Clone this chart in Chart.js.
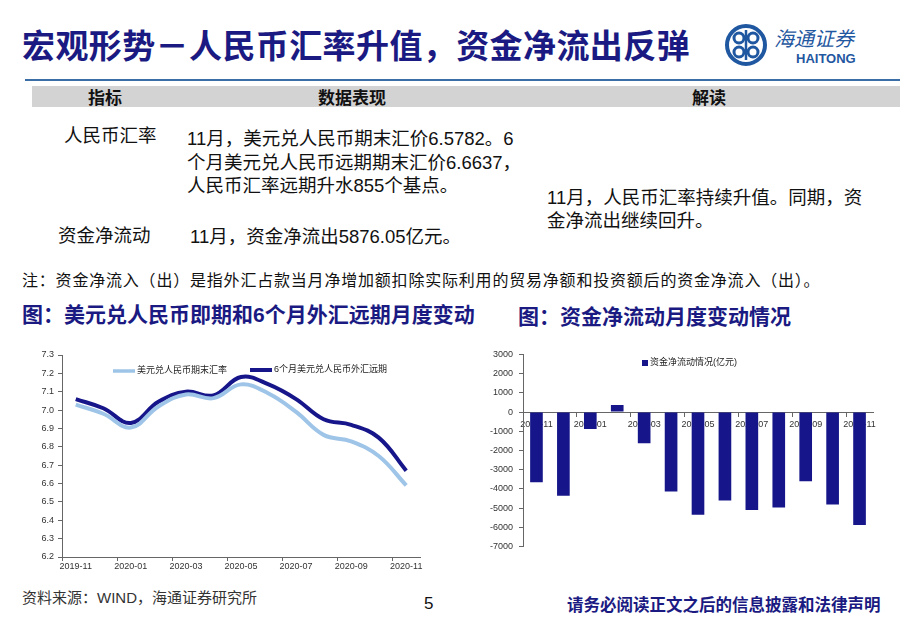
<!DOCTYPE html>
<html>
<head>
<meta charset="utf-8">
<script src="https://cdn.jsdelivr.net/npm/chart.js@4/dist/chart.umd.min.js"></script>
<style>
body { margin:0; width:920px; height:636px; background:#fff; position:relative; overflow:hidden;
  font-family:"Liberation Sans","Noto Sans CJK SC",sans-serif; color:#111; }
.t { position:absolute; white-space:nowrap; line-height:1; }
.navy { color:#1a1a82; }
</style>
</head>
<body>

<div class="t navy" style="left:22px;top:28px;font-size:33px;font-weight:bold;letter-spacing:0.4px;font-family:'Noto Sans CJK SC',sans-serif;">宏观形势－人民币汇率升值，资金净流出反弹</div>

<svg style="position:absolute;left:722px;top:22px" width="50" height="48">
  <circle cx="24" cy="23" r="19" fill="none" stroke="#1f57a0" stroke-width="4"/>
  <circle cx="17" cy="16" r="5" fill="none" stroke="#1f57a0" stroke-width="3"/>
  <circle cx="31" cy="16" r="5" fill="none" stroke="#1f57a0" stroke-width="3"/>
  <circle cx="17" cy="30" r="5" fill="none" stroke="#1f57a0" stroke-width="3"/>
  <circle cx="31" cy="30" r="5" fill="none" stroke="#1f57a0" stroke-width="3"/>
  <line x1="24" y1="8" x2="24" y2="38" stroke="#1f57a0" stroke-width="2.5"/>
</svg>
<div class="t" style="left:774px;top:28px;font-size:20px;font-style:italic;color:#1f57a0;font-family:'Noto Sans CJK SC',sans-serif;">海通证券</div>
<div class="t" style="left:796px;top:52px;font-size:13px;font-weight:bold;color:#1f57a0;">HAITONG</div>

<div style="position:absolute;left:25px;top:79px;width:875px;height:2px;background:#3a6ea5"></div>
<div style="position:absolute;left:32px;top:86px;width:868px;height:21px;background:#d3d3d3"></div>
<div class="t" style="left:88px;top:88px;font-size:17px;font-weight:bold;font-family:'Noto Sans CJK SC',sans-serif;">指标</div>
<div class="t" style="left:318px;top:88px;font-size:17px;font-weight:bold;font-family:'Noto Sans CJK SC',sans-serif;">数据表现</div>
<div class="t" style="left:692px;top:88px;font-size:17px;font-weight:bold;font-family:'Noto Sans CJK SC',sans-serif;">解读</div>

<div class="t" style="left:64px;top:127px;font-size:18.5px;">人民币汇率</div>
<div class="t" style="left:187px;top:127px;font-size:18.5px;line-height:23.5px;">11月，美元兑人民币期末汇价6.5782。6<br>个月美元兑人民币远期期末汇价6.6637，<br>人民币汇率远期升水855个基点。</div>
<div class="t" style="left:547px;top:186px;font-size:18.5px;line-height:23px;">11月，人民币汇率持续升值。同期，资<br>金净流出继续回升。</div>
<div class="t" style="left:58px;top:227px;font-size:18.5px;">资金净流动</div>
<div class="t" style="left:190px;top:228px;font-size:18.5px;">11月，资金净流出5876.05亿元。</div>

<div class="t" style="left:22px;top:273px;font-size:16px;letter-spacing:0.8px;">注：资金净流入（出）是指外汇占款当月净增加额扣除实际利用的贸易净额和投资额后的资金净流入（出）。</div>
<div class="t navy" style="left:22px;top:304px;font-size:21px;font-weight:bold;">图：美元兑人民币即期和6个月外汇远期月度变动</div>
<div class="t navy" style="left:518px;top:306px;font-size:21px;font-weight:bold;">图：资金净流动月度变动情况</div>

<div style="position:absolute;left:20px;top:345px;width:410px;height:230px;"><canvas id="fx"></canvas></div>
<div style="position:absolute;left:470px;top:343px;width:420px;height:215px;"><canvas id="flow"></canvas></div>

<div class="t" style="left:22px;top:590px;font-size:15px;color:#333;">资料来源：WIND，海通证券研究所</div>
<div class="t" style="left:424px;top:595px;font-size:17px;">5</div>
<div class="t navy" style="left:567px;top:597px;font-size:16.5px;font-weight:bold;">请务必阅读正文之后的信息披露和法律声明</div>

<script>
// data
const months = ['2019-11','2019-12','2020-01','2020-02','2020-03','2020-04','2020-05',
                '2020-06','2020-07','2020-08','2020-09','2020-10','2020-11'];
const spotRate = [7.03, 6.98, 6.905, 7.02, 7.085, 7.065, 7.14, 7.09, 6.99, 6.865, 6.83, 6.75, 6.59];
const fwdRate = [7.06, 7.01, 6.93, 7.045, 7.10, 7.08, 7.18, 7.14, 7.06, 6.95, 6.92, 6.85, 6.67];
const netFlow = [-3650, -4350, -880, 370, -1620, -4130, -5345, -4600, -5090, -4970, -3600, -4810, -5876.05];
const spotLabel = '美元兑人民币期末汇率';
const fwdLabel = '6个月美元兑人民币外汇远期';
const flowLabel = '资金净流动情况(亿元)';

const FONT = '"Liberation Sans","Noto Sans CJK SC",sans-serif';
const LIGHT = '#9ec4e8';
const DARK = '#16168a';
const AXIS = '#666';

Chart.defaults.font.family = FONT;
Chart.defaults.font.size = 9;
Chart.defaults.color = '#333';

// tick marks only on every other category boundary
function evenTick(ctx) {
    return ctx.index % 2 === 0 ? AXIS : 'rgba(0,0,0,0)';
}
function everyOther(val, i) {
    return i % 2 === 0 ? this.getLabelForValue(val) : '';
}

const fxLegend = {
    id: 'fxLegend',
    afterDraw(chart) {
        const c = chart.ctx;
        c.save();
        c.font = '9px ' + FONT;
        c.fillStyle = '#222';
        c.textBaseline = 'middle';
        c.lineWidth = 3.5;
        c.strokeStyle = LIGHT;
        c.beginPath(); c.moveTo(93, 26); c.lineTo(115, 26); c.stroke();
        c.fillText(spotLabel, 117, 26);
        c.lineWidth = 4;
        c.strokeStyle = DARK;
        c.beginPath(); c.moveTo(230, 25); c.lineTo(252, 25); c.stroke();
        c.fillText(fwdLabel, 254, 25);
        c.restore();
    }
};

new Chart(document.getElementById('fx'), {
    type: 'line',
    data: {
        labels: months,
        datasets: [
            { label: spotLabel, data: spotRate, borderColor: LIGHT, borderWidth: 4, pointRadius: 0, tension: 0.4 },
            { label: fwdLabel, data: fwdRate, borderColor: DARK, borderWidth: 4, pointRadius: 0, tension: 0.4 }
        ]
    },
    options: {
        responsive: true,
        maintainAspectRatio: false,
        animation: false,
        layout: { padding: { top: 10, right: 10, left: 0, bottom: 0 } },
        plugins: { legend: { display: false }, tooltip: { enabled: false } },
        scales: {
            x: {
                offset: true,
                grid: { offset: true, drawOnChartArea: false, tickLength: 4, color: evenTick },
                border: { color: AXIS },
                ticks: { autoSkip: false, maxRotation: 0, padding: 0, callback: everyOther },
                afterFit(s) { s.height = 18; }
            },
            y: {
                min: 6.2, max: 7.3,
                grid: { drawOnChartArea: false, tickLength: 4, color: AXIS },
                border: { color: AXIS },
                ticks: { stepSize: 0.1, padding: 4, callback: v => v.toFixed(1) },
                afterFit(s) { s.width = 42; }
            }
        }
    },
    plugins: [fxLegend]
});

const flowLegend = {
    id: 'flowLegend',
    afterDraw(chart) {
        const c = chart.ctx;
        c.save();
        c.fillStyle = DARK;
        c.fillRect(172, 17, 6, 6);
        c.font = '9px ' + FONT;
        c.fillStyle = '#222';
        c.textBaseline = 'middle';
        c.fillText(flowLabel, 180, 20);
        c.restore();
    }
};

new Chart(document.getElementById('flow'), {
    type: 'bar',
    data: {
        labels: months,
        datasets: [
            { label: flowLabel, data: netFlow, backgroundColor: DARK, categoryPercentage: 1, barPercentage: 0.47 }
        ]
    },
    options: {
        responsive: true,
        maintainAspectRatio: false,
        animation: false,
        layout: { padding: { top: 8, right: 17, left: 0, bottom: 8 } },
        plugins: { legend: { display: false }, tooltip: { enabled: false } },
        scales: {
            x: {
                position: { y: 0 },
                offset: true,
                grid: { offset: true, drawOnChartArea: false, tickLength: 4, color: evenTick },
                border: { color: AXIS },
                ticks: { autoSkip: false, maxRotation: 0, padding: 3, callback: everyOther }
            },
            y: {
                min: -7000, max: 3000,
                grid: { drawOnChartArea: false, tickLength: 4, color: AXIS },
                border: { color: AXIS },
                ticks: { stepSize: 1000, padding: 6, callback: v => String(v) },
                afterFit(s) { s.width = 53; }
            }
        }
    },
    plugins: [flowLegend]
});
</script>
</body>
</html>
